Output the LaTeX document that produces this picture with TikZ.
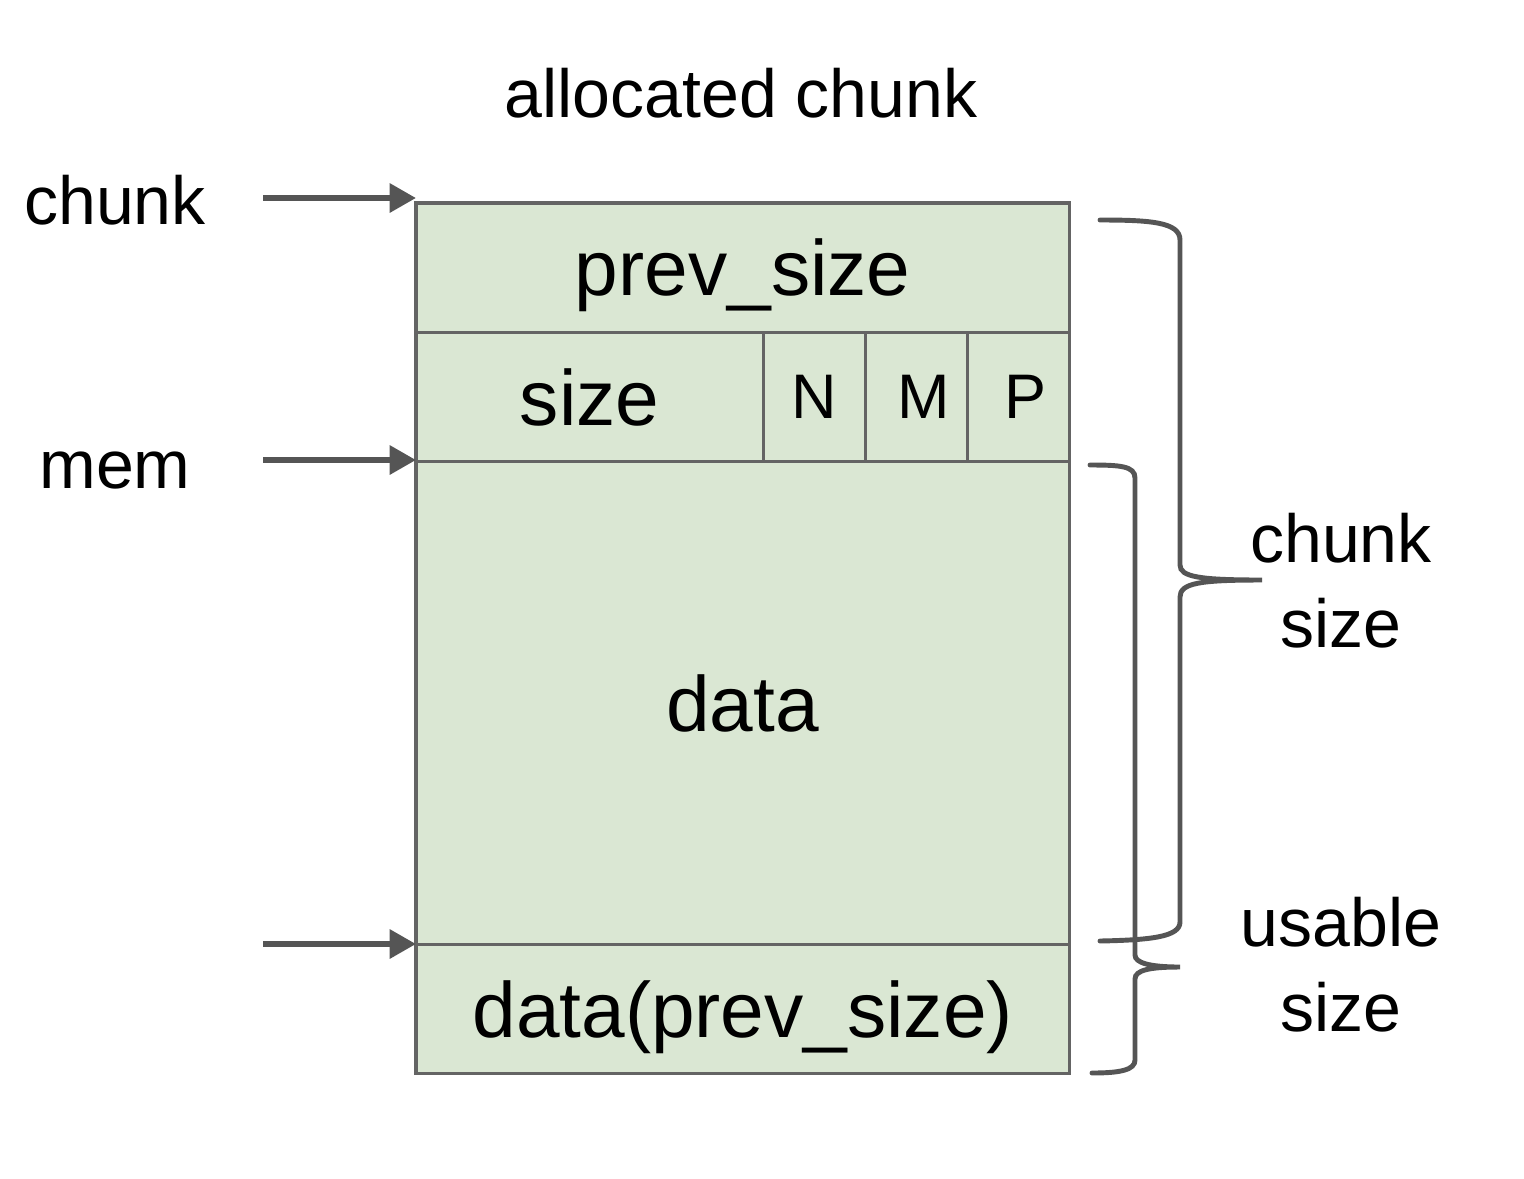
\documentclass[tikz,border=0pt]{standalone}
\usepackage{fontspec}
\setmainfont{Liberation Sans}
\usepackage{xcolor}
\usepackage{tikz}
\usetikzlibrary{arrows.meta, positioning}

\definecolor{cellgreen}{RGB}{218,231,211}
\definecolor{cellline}{RGB}{100,100,100}
\definecolor{ptrgray}{RGB}{85,85,85}

\begin{document}
\begin{tikzpicture}[x=0.01cm, y=-0.01cm,
        cell/.style={draw=cellline, fill=cellgreen, line width=0.9pt, inner sep=0pt, outer sep=0pt,
            minimum height=1.29cm, text depth=0pt, font=\fontsize{22.3}{26}\selectfont},
        bit/.style={cell, minimum width=1.02cm, font=\fontsize{17.9}{21}\selectfont},
        lbl/.style={font=\fontsize{19.35}{24.2}\selectfont, align=center},
        ptr/.style={draw=ptrgray, line width=1.7pt, -{Triangle[length=7.5pt, width=8pt]}},
        brace/.style={draw=ptrgray, line width=1.4pt, line cap=round}]
        \fill[white] (0,0) rectangle (1524,1178);

        \node[lbl] (title) at (741,93) {allocated chunk};
        \node[lbl] (chunklbl) at (115,200) {chunk};
        \node[lbl] (memlbl) at (115,471) {mem};

        \node[cell, minimum width=6.53cm, anchor=north west] (prevsize) at (416,203) {prev\_size};
        \node[cell, minimum width=3.47cm, anchor=north west] (sizecell) at (prevsize.south west) {size};
        \node[bit, right=0pt of sizecell] (nbit) {N};
        \node[bit, right=0pt of nbit] (mbit) {\hspace{4pt}M};
        \node[bit, right=0pt of mbit] (pbit) {\hspace{4pt}P};
        \node[cell, minimum width=6.53cm, minimum height=4.83cm, anchor=north west] (data) at (sizecell.south west) {data};
        \node[cell, minimum width=6.53cm, below=0pt of data] (prevdata) {data(prev\_size)};

        \node[lbl] (chunksize) at (1341,581) {chunk\\size};
        \node[lbl] (usablesize) at (1341,965) {usable\\size};

        \coordinate (chunkarr) at (263,198);
        \coordinate (memarr) at (263,460);
        \coordinate (endarr) at (263,944);

        \draw[ptr] (chunkarr) -- (chunkarr -| prevsize.west);
        \draw[ptr] (memarr) -- (memarr -| data.west);
        \draw[ptr] (endarr) -- (endarr -| prevdata.west);

        % chunk size brace
        \draw[brace] (1100,220) .. controls (1150,220) and (1180,222) .. (1180,240) -- (1180,565)
            .. controls (1180,577) and (1200,580) .. (1262,580)
            .. controls (1200,580) and (1180,583) .. (1180,597) -- (1180,922)
            .. controls (1180,937) and (1150,940) .. (1100,941);
        % usable size brace
        \draw[brace] (1090,465) .. controls (1120,465) and (1135,466) .. (1135,478) -- (1135,955)
            .. controls (1135,963) and (1150,967) .. (1180,967)
            .. controls (1150,967) and (1135,970) .. (1135,979) -- (1135,1060)
            .. controls (1135,1070) and (1120,1073) .. (1092,1073);
    \end{tikzpicture}
\end{document}
